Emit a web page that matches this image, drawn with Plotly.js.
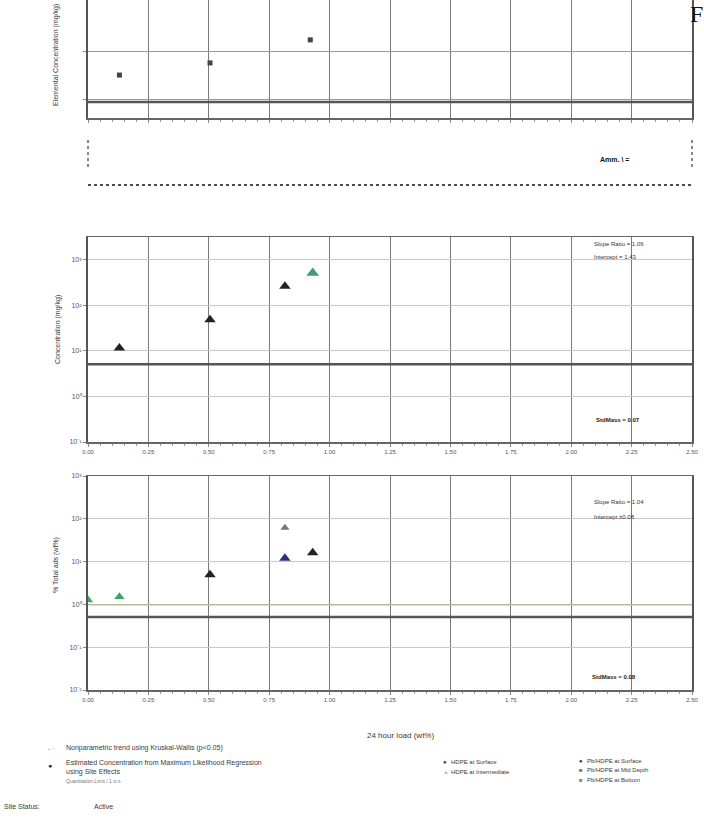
<!DOCTYPE html>
<html><head><meta charset="utf-8">
<script src="https://cdn.plot.ly/plotly-3.0.1.min.js"></script>
<style>html,body{margin:0;padding:0;background:#fff}#chart{width:704px;height:821px}</style>
</head><body><div id="chart"></div>
<script>
// ---- shared x axis ----
const xTickVals = [0, 0.25, 0.5, 0.75, 1.0, 1.25, 1.5, 1.75, 2.0, 2.25, 2.5];
const xTickText = ['0.00','0.25','0.50','0.75','1.00','1.25','1.50','1.75','2.00','2.25','2.50'];
const refX = [0, 2.5];

// ---- top panel (cut off) ----
const topX = [0.13, 0.505, 0.92];
const topY = [3.3, 5.9, 17.8];
const topRef = [0.91, 0.91];

// ---- middle panel ----
const midBlackX = [0.13, 0.505, 0.815];
const midBlackY = [11.5, 48, 263];
const midTealX = [0.93];
const midTealY = [513];
const midRef = [5.1, 5.1];
const midTickVals = [0.1, 1, 10, 100, 1000];
const midTickText = ['10⁻¹','10⁰','10¹','10²','10³'];

// ---- bottom panel ----
const botGreenX = [0.0, 0.13];
const botGreenY = [1.26, 1.5];
const botBlackX = [0.505, 0.93];
const botBlackY = [4.9, 16];
const botGrayX = [0.815];
const botGrayY = [62];
const botBlueX = [0.815];
const botBlueY = [12];
const botRef = [0.51, 0.51];
const botRef2 = [0.98, 0.98];
const botTickVals = [0.01, 0.1, 1, 10, 100, 1000];
const botTickText = ['10⁻²','10⁻¹','10⁰','10¹','10²','10³'];

const F = 'Liberation Sans, Arial, sans-serif';
const tri = (x, y, color, xa, ya, size) => ({
  x, y, xaxis: xa, yaxis: ya, type: 'scatter', mode: 'markers', showlegend: false,
  marker: {symbol: 'triangle-up', size: size || 9, color: color, line: {width: 0}}
});
const refLine = (y, xa, ya, color, w) => ({
  x: refX, y, xaxis: xa, yaxis: ya, type: 'scatter', mode: 'lines', showlegend: false,
  line: {color: color, width: w}
});

const data = [
  refLine(topRef, 'x', 'y', '#555', 2.5),
  {x: topX, y: topY, xaxis: 'x', yaxis: 'y', type: 'scatter', mode: 'markers', showlegend: false,
   marker: {symbol: 'square', size: 5, color: '#444'}},
  refLine(midRef, 'x2', 'y2', '#555', 2.5),
  tri(midBlackX, midBlackY, '#222', 'x2', 'y2', 10),
  tri(midTealX, midTealY, '#3c9a85', 'x2', 'y2', 11),
  refLine(botRef2, 'x3', 'y3', '#b9b9a0', 1.5),
  refLine(botRef, 'x3', 'y3', '#555', 2.5),
  tri(botGreenX, botGreenY, '#3aa66a', 'x3', 'y3', 9),
  tri(botBlackX, botBlackY, '#222', 'x3', 'y3', 10),
  tri(botGrayX, botGrayY, '#777', 'x3', 'y3', 8),
  tri(botBlueX, botBlueY, '#2a2f8c', 'x3', 'y3', 10)
];

const xBase = {
  domain: [0.125, 0.983], range: [0, 2.5], tickvals: xTickVals, ticktext: xTickText,
  showgrid: true, gridcolor: '#7a7a7a', gridwidth: 1, zeroline: false,
  showline: true, linecolor: '#666', linewidth: 1.5, mirror: true,
  ticks: 'outside', ticklen: 3, tickcolor: '#888',
  minor: {ticks: 'outside', ticklen: 2, dtick: 0.05, tickcolor: '#999', showgrid: false},
  tickfont: {family: F, size: 6, color: '#555'}
};
const yBase = {
  type: 'log', showgrid: true, gridcolor: '#c8c8c8', zeroline: false,
  showline: true, linecolor: '#555', linewidth: 2, mirror: true,
  ticks: 'outside', ticklen: 3, tickcolor: '#888',
  tickfont: {family: F, size: 7, color: '#555'}
};

const yPaper = px => 1 - px / 821;
const xPaper = px => px / 704;
const txt = (px, py, text, size, opts) => Object.assign({
  xref: 'paper', yref: 'paper', x: xPaper(px), y: yPaper(py), text: text, showarrow: false,
  xanchor: 'left', yanchor: 'middle', font: {family: F, size: size || 7, color: '#3a3a3a'}
}, opts || {});

const annotations = [
  // y-axis titles
  txt(56, 55, 'Elemental Concentration (mg/kg)', 7, {xanchor: 'center', textangle: -90}),
  txt(58, 330, 'Concentration (mg/kg)', 7, {xanchor: 'center', textangle: -90}),
  txt(56, 565, '% Total ads (wt%)', 7, {xanchor: 'center', textangle: -90}),
  // stats text
  txt(592, 244, 'Slope Ratio = 1.06', 6, {font: {family: F, size: 6, color: '#333'}}),
  txt(592, 257, 'Intercept = 1.43', 6, {font: {family: F, size: 6, color: '#333'}}),
  txt(594, 420, '<b>StdMass = 0.07</b>', 6, {font: {family: F, size: 6, color: '#222'}}),
  txt(592, 502, 'Slope Ratio = 1.04', 6, {font: {family: F, size: 6, color: '#333'}}),
  txt(592, 517, 'Intercept ±0.08', 6, {font: {family: F, size: 6, color: '#333'}}),
  txt(590, 677, '<b>StdMass = 0.08</b>', 6, {font: {family: F, size: 6, color: '#222'}}),
  // dotted band label
  txt(598, 160, '<b>Amm. \\ =</b>', 7, {font: {family: F, size: 7, color: '#111'}}),
  // partial title at top right
  txt(688, 14, 'F', 24, {font: {family: 'Liberation Serif, serif', size: 24, color: '#111'}}),
  // x title
  txt(400, 735, '24 hour load (wt%)', 8, {xanchor: 'center', font: {family: F, size: 8, color: '#3a3a3a'}}),
  // legend left
  txt(46, 748, '- ·', 7, {font: {family: F, size: 7, color: '#888'}}),
  txt(64, 748, 'Nonparametric trend using Kruskal-Wallis (p<0.05)', 7),
  txt(46, 765, '●', 7, {font: {family: F, size: 7, color: '#333'}}),
  txt(64, 763, 'Estimated Concentration from Maximum Likelihood Regression', 7),
  txt(64, 772, 'using Site Effects', 7),
  txt(64, 781, 'Quantitation Limit / 1 o.n.', 5, {font: {family: F, size: 5, color: '#777'}}),
  txt(2, 806, 'Site Status:', 7),
  txt(92, 806, 'Active', 7),
  // legend right
  txt(441, 762, '●', 6, {font: {family: F, size: 6, color: '#333'}}),
  txt(449, 762, 'HDPE at Surface', 6),
  txt(441, 772, '▲', 6, {font: {family: F, size: 6, color: '#bbb'}}),
  txt(449, 772, 'HDPE at Intermediate', 6),
  txt(577, 761, '●', 6, {font: {family: F, size: 6, color: '#333'}}),
  txt(585, 761, 'Pb/HDPE at Surface', 6),
  txt(577, 770, '■', 6, {font: {family: F, size: 6, color: '#777'}}),
  txt(585, 770, 'Pb/HDPE at Mid Depth', 6),
  txt(577, 780, '■', 6, {font: {family: F, size: 6, color: '#888'}}),
  txt(585, 780, 'Pb/HDPE at Bottom', 6)
];

const shapes = [
  {type: 'line', xref: 'paper', yref: 'paper', x0: xPaper(88), x1: xPaper(692), y0: yPaper(185), y1: yPaper(185),
   line: {color: '#111', width: 1.5, dash: 'dot'}},
  {type: 'line', xref: 'paper', yref: 'paper', x0: xPaper(88), x1: xPaper(88), y0: yPaper(140), y1: yPaper(170),
   line: {color: '#111', width: 1, dash: 'dot'}},
  {type: 'line', xref: 'paper', yref: 'paper', x0: xPaper(692), x1: xPaper(692), y0: yPaper(140), y1: yPaper(170),
   line: {color: '#111', width: 1, dash: 'dot'}}
];

const layout = {
  width: 704, height: 821, margin: {l: 0, r: 0, t: 0, b: 0},
  paper_bgcolor: '#fff', plot_bgcolor: '#fff', showlegend: false,
  xaxis: Object.assign({}, xBase, {anchor: 'y', showticklabels: false}),
  xaxis2: Object.assign({}, xBase, {anchor: 'y2'}),
  xaxis3: Object.assign({}, xBase, {anchor: 'y3'}),
  yaxis: Object.assign({}, yBase, {anchor: 'x', domain: [yPaper(118), 1], range: [-0.375, 2.08],
    tickvals: [1, 10], showticklabels: false, gridcolor: '#999'}),
  yaxis2: Object.assign({}, yBase, {anchor: 'x2', domain: [yPaper(442), yPaper(237)], range: [-1, 3.5],
    tickvals: midTickVals, ticktext: midTickText}),
  yaxis3: Object.assign({}, yBase, {anchor: 'x3', domain: [yPaper(690), yPaper(476)], range: [-2, 3],
    tickvals: botTickVals, ticktext: botTickText}),
  annotations: annotations,
  shapes: shapes
};

Plotly.newPlot('chart', data, layout, {staticPlot: true});
</script>
</body></html>
